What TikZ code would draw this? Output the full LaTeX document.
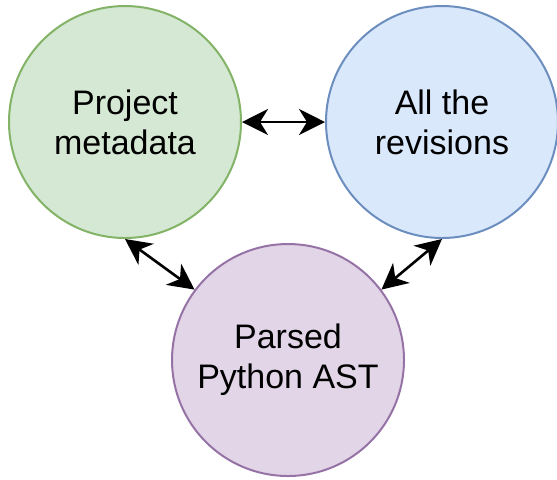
\documentclass[tikz,border=0pt]{standalone}
\usepackage{fontspec}
\setmainfont{Liberation Sans}
\usepackage{xcolor}
\usepackage{tikz}
\usetikzlibrary{arrows.meta}

\definecolor{metafill}{HTML}{D5E8D4}
\definecolor{metaline}{HTML}{82B366}
\definecolor{revsfill}{HTML}{DAE8FC}
\definecolor{revsline}{HTML}{6C8EBF}
\definecolor{astfill}{HTML}{E1D5E7}
\definecolor{astline}{HTML}{9673A6}

\begin{document}
\begin{tikzpicture}[x=0.5pt,y=-0.5pt,
    bubble/.style={circle,line width=1pt,minimum size=116pt,inner sep=0pt,
      align=center,font=\fontsize{17}{20}\selectfont},
    link/.style={line width=1.3pt,{Stealth[length=13pt,width=13pt,inset=4pt]}-{Stealth[length=13pt,width=13pt,inset=4pt]}}]
    \useasboundingbox (0,0) rectangle (557,479);
    \node[bubble,draw=metaline,fill=metafill] (meta) at (125,122) {Project\\metadata};
    \node[bubble,draw=revsline,fill=revsfill] (revs) at (442,122) {All the\\revisions};
    \node[bubble,draw=astline,fill=astfill] (ast) at (288,360) {Parsed\\Python AST};
    \draw[link] (meta.east) -- (revs.west);
    \draw[link] (meta.south) -- (ast.143);
    \draw[link] (revs.south) -- (ast.37);
  \end{tikzpicture}
\end{document}
